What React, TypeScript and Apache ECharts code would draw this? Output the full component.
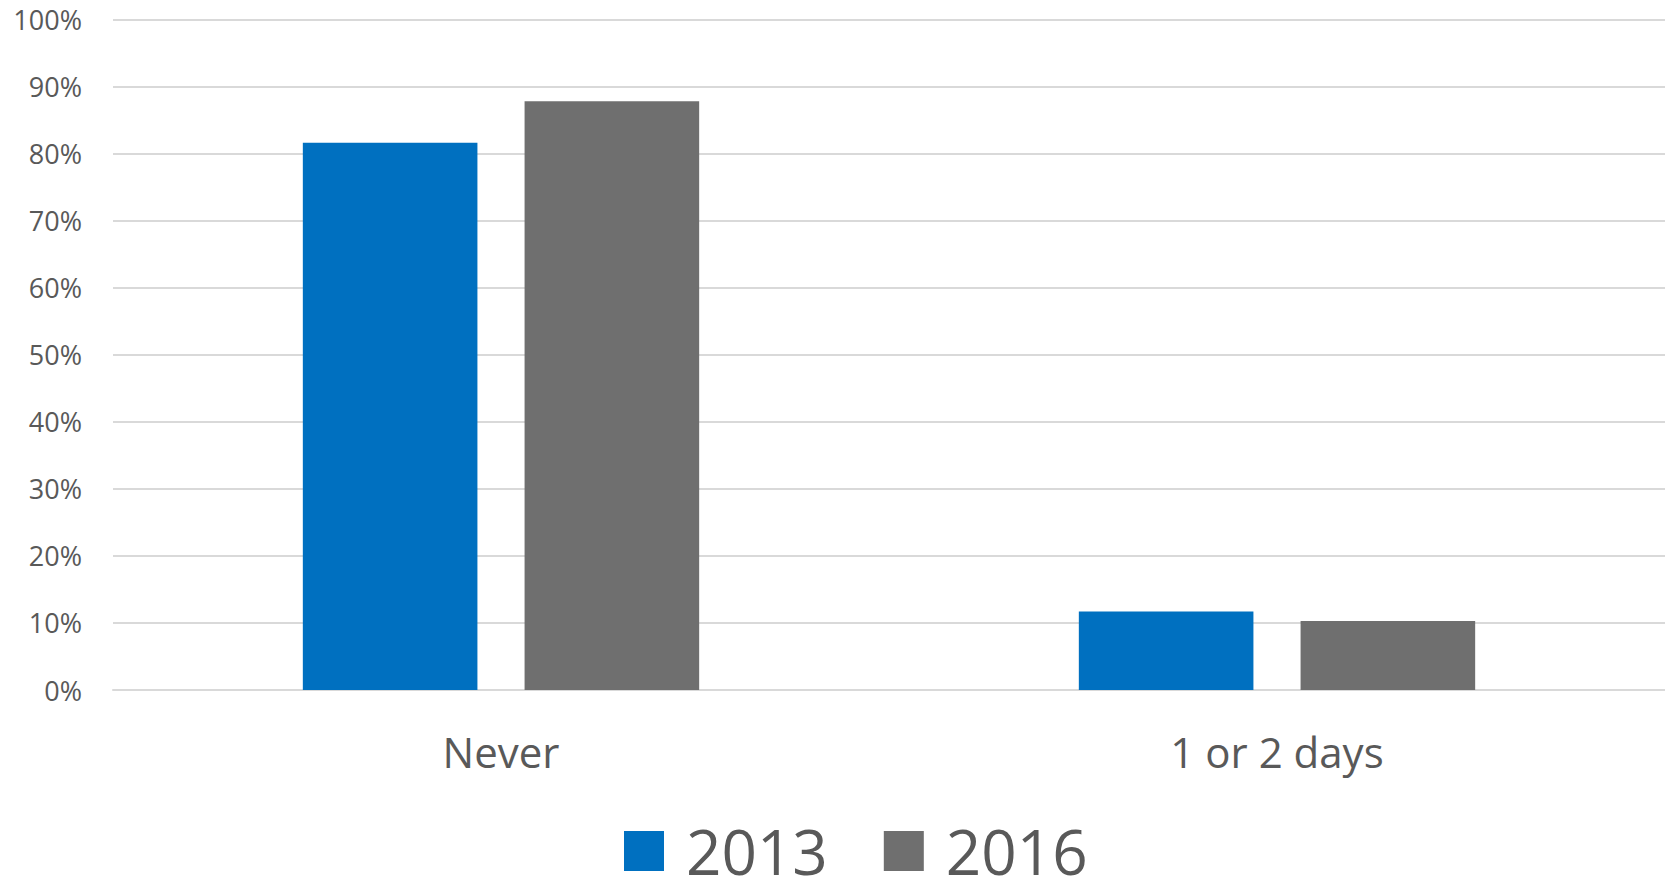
import React, { useEffect, useRef } from "react";
import * as echarts from "echarts";

const categories = ["Never", "1 or 2 days"];
const seriesNames = ["2013", "2016"];
const values2013 = [81.6, 11.7];
const values2016 = [87.8, 10.3];
const yTicks = { min: 0, max: 100, interval: 10 };

const FONT = "'Open Sans', 'DejaVu Sans', sans-serif";
const TEXT = "#595959";
const GRID = "#D9D9D9";

export default function App() {
  const ref = useRef<HTMLDivElement>(null);
  useEffect(() => {
    document.body.style.margin = "0";
    const chart = echarts.init(ref.current!, null, { renderer: "svg" });
    chart.setOption({
      animation: false,
      backgroundColor: "#FFFFFF",
      textStyle: { fontFamily: FONT },
      grid: { left: 113, width: 1560, top: 19.5, bottom: 189, containLabel: false },
      legend: {
        data: seriesNames,
        left: 619,
        top: 815,
        itemWidth: 40,
        itemHeight: 40,
        itemGap: 56,
        icon: "rect",
        textStyle: {
          fontFamily: FONT,
          fontSize: 62,
          lineHeight: 60,
          color: TEXT,
          padding: [0, 0, 0, 17],
        },
      },
      xAxis: {
        type: "category",
        data: categories,
        axisLine: { show: true, lineStyle: { color: GRID, width: 2 } },
        axisTick: { show: false },
        axisLabel: { fontFamily: FONT, fontSize: 42, color: TEXT, margin: 40 },
      },
      yAxis: {
        type: "value",
        min: yTicks.min,
        max: yTicks.max,
        interval: yTicks.interval,
        axisLine: { show: false },
        axisTick: { show: false },
        splitLine: { lineStyle: { color: GRID, width: 2 } },
        axisLabel: {
          fontFamily: FONT,
          fontSize: 27,
          color: TEXT,
          margin: 31,
          formatter: "{value}%",
        },
      },
      series: [
        {
          name: seriesNames[0],
          type: "bar",
          data: values2013,
          barWidth: "22.5%",
          barGap: "27%",
          itemStyle: { color: "#0070C0" },
        },
        {
          name: seriesNames[1],
          type: "bar",
          data: values2016,
          barWidth: "22.5%",
          itemStyle: { color: "#6F6F6F" },
        },
      ],
    });
    return () => chart.dispose();
  }, []);
  return <div ref={ref} style={{ width: 1665, height: 879 }} />;
}
